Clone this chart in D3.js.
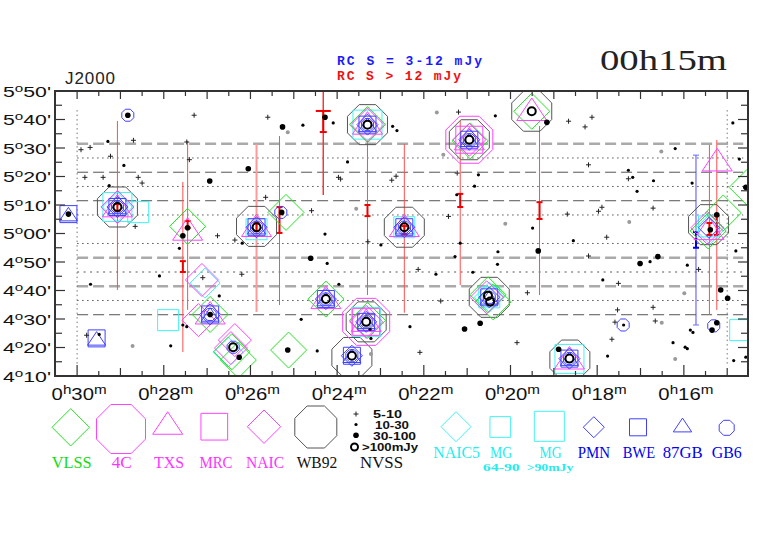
<!DOCTYPE html>
<html lang="en">
<head>
<meta charset="utf-8">
<title>00h15m field</title>
<script src="https://cdn.jsdelivr.net/npm/d3@7"></script>
<style>
body { margin: 0; background: #fff; }
</style>
</head>
<body>
<script>
// RA in minutes of time (0h..m), Dec in arcmin (5d00' = 300)

// survey strips (Dec)
var stripGreyDash = [331.5, 291.5, 281.5];
var stripDarkDash = [321.5, 311.5, 271.5];
var stripDarkDot  = [326.5, 316.5, 306.5, 296.5, 276.5];
var stripGreyDot  = [286.5];

// RC sources: ra, dec low, dec high, bar low, bar high
var rcRed = [
  [29.07, 280.2, 339.5, 307.9, 310.3],
  [27.45, 273.2, 332.5, 301.9, 304.4],
  [27.56, 258.4, 318.1, 286.5, 290.3],
  [25.33, 274.9, 334.2, 300.2, 309.3],
  [23.30, 278.4, 332.5, 306.1, 310.0],
  [22.45, 272.2, 331.4, 299.8, 302.6],
  [21.16, 281.9, 339.5, 309.3, 313.9],
  [19.33, 278.4, 337.7, 305.1, 311.0],
  [15.41, 271.4, 331.1, 299.5, 303.7],
  [15.24, 273.2, 332.8, 299.5, 306.1]
];
var rcPink = [[25.86, 272.5, 331.4, 300.9, 303.7]];
var rcWide = [[24.32, 313.5, 350.0, 335.6, 343.0]];
var rcBlue = [[15.72, 267.9, 327.5, 295.0, 300.5]];

// catalogue positions
var vlss = [[27.45,302.5],[25.18,307.4],[23.30,338.2],[20.93,332.5],[19.51,342.9],[15.09,307.2],[15.44,300.9],
  [14.54,316.2],[26.93,271.6],[26.43,258.5],[26.28,255.6],[25.12,259.1],[24.26,277.0],[23.30,269.5],[20.52,278.5],[20.40,276.0]];
var fourC = [[20.95,332.9],[23.33,269.0]];
var txs = [[29.07,309.8],[27.45,301.6],[25.86,302.9],[23.30,338.8],[22.45,302.9],[20.95,333.3],[19.51,343.6],
  [15.42,301.8],[15.23,325.9],[26.93,272.2],[24.26,277.6],[23.33,269.6],[18.64,256.4]];
var mrc = [[20.95,332.9],[23.33,269.0]];
var naic = [[29.07,309.3],[23.30,338.2],[20.95,332.9],[27.20,269.6],[27.12,283.7],[26.36,262.6],[26.45,259.8],
  [20.55,277.6],[15.46,302.0],[23.33,269.0]];
var wb92 = [[29.07,309.3],[25.86,302.5],[23.30,338.2],[22.45,302.2],[20.95,332.9],[19.51,342.9],[15.43,303.1],
  [23.33,269.0],[23.66,256.5],[20.49,277.6],[18.63,255.6]];
var naic5 = [[29.07,309.3],[27.05,282.6],[26.52,258.4],[20.49,277.6],[15.40,301.5]];
var mgMid = [[28.59,307.5],[25.86,301.5],[22.45,302.2],[27.90,269.6],[14.70,266.1],[20.49,277.6],[15.42,302.5]];
var mgBig = [[29.07,309.3],[23.30,338.2],[23.33,269.0],[18.64,256.0]];
var pmn = [[29.07,309.3],[25.86,302.2],[23.30,338.2],[22.45,302.2],[20.95,332.9],[26.93,271.6],[24.26,277.0],
  [23.33,269.0],[23.66,257.1],[20.49,277.6],[18.64,256.1],[15.42,302.0]];
var bwe = [[30.20,306.8],[29.07,309.3],[25.86,302.2],[23.30,338.2],[22.45,302.2],[20.95,332.9],[26.93,271.6],
  [24.26,277.0],[23.33,269.0],[23.66,257.1],[20.49,277.6],[18.64,256.1],[29.55,263.2]];
var gb87 = [[30.20,306.8],[29.07,309.3],[25.86,302.2],[23.30,338.2],[22.45,302.2],[20.95,332.9],[26.93,271.6],
  [24.26,277.0],[23.33,269.0],[23.66,257.1],[20.49,277.6],[18.64,256.1],[29.55,263.2]];
var gb6 = [[29.07,309.3],[25.86,302.2],[25.30,307.4],[23.30,338.2],[22.45,302.2],[20.95,332.9],[26.93,271.6],
  [26.40,260.1],[24.26,277.0],[23.33,269.0],[23.66,257.1],[20.49,277.6],[18.64,256.1],[28.83,341.5],[17.40,267.9],[15.31,267.6]];

// NVSS
var nvssRing = [[29.07,309.3],[25.86,302.2],[23.30,338.2],[22.45,302.2],[20.95,332.9],[19.51,342.9],[26.40,260.1],
  [24.26,277.0],[23.33,269.0],[23.66,257.1],[20.52,278.2],[20.47,276.1],[18.64,256.1]];
var nvssBig = [[25.26,337.4],[26.94,318.4],[26.05,322.7],[24.61,291.3],[21.06,266.5],[20.70,268.5],[19.36,293.9],
  [16.60,291.9],[17.01,289.5],[15.15,280.2],[14.99,277.3],[15.35,266.1],[15.24,268.7],[25.14,259.1],[24.28,340.8],
  [19.16,339.0],[27.56,299.2],[26.26,256.6],[18.89,259.4],[15.39,301.3],[15.24,306.6],[30.20,306.8],[25.28,307.4],
  [27.45,302.0],[26.93,271.6],[14.57,316.2],[28.83,341.5]];
var nvssDot = [[29.29,332.3],[28.92,323.9],[29.26,316.8],[24.79,338.0],[24.09,338.8],[22.72,337.6],[22.62,336.1],
  [20.35,341.3],[23.76,325.1],[20.74,320.6],[20.83,316.6],[21.24,313.6],[24.28,299.8],[16.20,329.8],[17.28,322.2],
  [17.18,319.7],[16.70,318.5],[17.08,314.8],[15.81,317.7],[19.49,301.9],[14.87,338.8],[14.72,326.1],[29.69,282.2],
  [28.10,285.1],[26.19,296.6],[27.64,294.8],[26.72,278.1],[27.56,267.9],[27.47,267.3],[27.84,260.6],[29.49,264.6],
  [22.99,296.0],[24.23,289.5],[21.72,285.7],[21.28,291.9],[21.16,296.6],[20.29,293.6],[20.30,289.2],[20.87,286.4],
  [23.96,282.2],[24.83,269.9],[22.32,267.3],[24.46,258.8],[18.55,297.5],[16.78,290.1],[15.92,288.9],[17.87,283.7],
  [14.80,293.9],[16.25,261.7],[15.85,266.1],[15.79,265.3],[15.97,260.1],[15.92,259.6],[17.76,257.0],[14.85,255.4],
  [14.57,256.6],[23.24,266.4],[23.22,263.2],[17.39,267.9]];
var nvssPlus = [[29.91,329.4],[29.70,330.2],[28.70,332.7],[27.30,341.5],[25.60,340.8],[29.23,327.1],[29.82,319.7],
  [29.40,319.7],[28.59,319.7],[28.50,317.7],[27.47,332.1],[27.41,325.9],[25.65,312.7],[28.66,302.5],[26.76,299.2],
  [21.20,342.6],[23.97,319.7],[23.92,319.1],[22.74,318.7],[22.64,320.1],[21.23,321.2],[24.59,308.0],[21.43,306.0],
  [18.66,339.4],[18.12,340.8],[18.28,337.4],[18.20,324.1],[17.28,319.2],[18.69,306.8],[17.97,307.8],[17.89,309.2],
  [16.71,308.9],[17.78,298.7],[26.36,297.7],[26.20,285.7],[27.10,284.5],[29.78,264.3],[23.29,297.1],[22.13,287.4],
  [21.61,276.3],[22.09,258.3],[19.85,261.7],[18.20,292.1],[15.66,287.4],[17.51,282.5],[19.61,279.2],[17.53,273.2],
  [16.71,274.1],[16.66,269.3],[17.59,268.9],[17.66,262.9]];
var nvssGrey = [[25.14,335.5],[23.56,308.7],[20.12,303.4],[17.26,304.0],[28.72,260.5],[23.22,257.7],[16.51,268.7],
  [21.70,342.5],[21.55,327.6],[16.52,328.8],[15.99,279.0],[16.20,256.0]];

// axis ticks
var raLabels = [30, 28, 26, 24, 22, 20, 18, 16];
var decLabels = [350, 340, 330, 320, 310, 300, 290, 280, 270, 260, 250];

var W = 782, H = 542;
var L = 55, R = 748, T = 91, B = 376;

var GREEN = "#22e822", MAG = "#ff44ff", CYAN = "#44f2f2", BLUE = "#4040ff", GREY = "#555";
var SANS = "'Liberation Sans', Arial, sans-serif",
    SERIF = "'Liberation Serif', 'Times New Roman', serif",
    MONO = "'Liberation Mono', 'Courier New', monospace";

var x = d3.scaleLinear().domain([30.51, 14.52]).range([L, R]);
var y = d3.scaleLinear().domain([350, 250]).range([T, B]);

var svg = d3.select("body").append("svg")
    .attr("width", W).attr("height", H)
    .style("display", "block")
    .style("background", "#fff");

svg.append("clipPath").attr("id", "pc")
   .append("rect").attr("x", L).attr("y", T).attr("width", R - L).attr("height", B - T);

var plot = svg.append("g").attr("clip-path", "url(#pc)");

// shapes
function diamond(cx, cy, s) {
    return "M" + cx + "," + (cy - s) + "L" + (cx + s) + "," + cy + "L" + cx + "," + (cy + s) + "L" + (cx - s) + "," + cy + "Z";
}
function square(cx, cy, s) {
    var h = s / 2;
    return "M" + (cx - h) + "," + (cy - h) + "h" + s + "v" + s + "h" + (-s) + "Z";
}
function triangle(cx, cy, s) {
    var hh = s * 0.75 / 2;
    return "M" + cx + "," + (cy - hh) + "L" + (cx + s / 2) + "," + (cy + hh) + "L" + (cx - s / 2) + "," + (cy + hh) + "Z";
}
function octagon(cx, cy, s) {
    var r = s / 2 / Math.cos(Math.PI / 8), p = [];
    for (var k = 0; k < 8; k++) {
        var a = Math.PI / 8 + k * Math.PI / 4;
        p.push((cx + r * Math.cos(a)) + "," + (cy + r * Math.sin(a)));
    }
    return "M" + p.join("L") + "Z";
}

function drawSet(data, shape, size, color, sw) {
    plot.append("g").selectAll("path").data(data).enter().append("path")
        .attr("d", function(d) { return shape(x(d[0]), y(d[1]), size); })
        .attr("fill", "none")
        .attr("stroke", color)
        .attr("stroke-width", sw || 1);
}

// survey strips
function strips(data, dash, color, sw) {
    plot.append("g").selectAll("line").data(data).enter().append("line")
        .attr("x1", x(30)).attr("x2", x(14.63))
        .attr("y1", function(d) { return y(d); }).attr("y2", function(d) { return y(d); })
        .attr("stroke", color).attr("stroke-width", sw)
        .attr("stroke-dasharray", dash);
}
strips(stripDarkDot, "1.5,3.5", "#555", 1);
strips(stripGreyDot, "2,4.5", "#aaa", 2);
strips(stripDarkDash, "11,5", "#555", 1);
strips(stripGreyDash, "11,5", "#aaa", 2.5);

// field limits
[30, 15].forEach(function(m) {
    plot.append("line")
        .attr("x1", x(m)).attr("x2", x(m))
        .attr("y1", y(343.3)).attr("y2", y(253.9))
        .attr("stroke", "#777").attr("stroke-width", 1)
        .attr("stroke-dasharray", "1.5,3");
});

// RC lines with bars
function rcDraw(data, color, lw, bw, capTop, capBot) {
    data.forEach(function(d) {
        var xx = x(d[0]);
        plot.append("line").attr("x1", xx).attr("x2", xx)
            .attr("y1", y(d[2])).attr("y2", y(d[1]))
            .attr("stroke", color).attr("stroke-width", lw);
        var g = plot.append("g").attr("stroke", bw.c).attr("stroke-width", bw.w);
        g.append("line").attr("x1", xx).attr("x2", xx).attr("y1", y(d[4])).attr("y2", y(d[3]));
        g.append("line").attr("x1", xx - capTop / 2).attr("x2", xx + capTop / 2).attr("y1", y(d[4])).attr("y2", y(d[4]));
        g.append("line").attr("x1", xx - capBot / 2).attr("x2", xx + capBot / 2).attr("y1", y(d[3])).attr("y2", y(d[3]));
    });
}
rcDraw(rcRed, "#ff4d4d", 1, {c: "#ee0000", w: 2}, 6, 6);
rcDraw(rcPink, "#ff9a9a", 2, {c: "#ee0000", w: 2}, 6, 6);
rcDraw(rcWide, "#ff3333", 1.5, {c: "#ee0000", w: 2}, 15, 7);
rcDraw(rcBlue, "#4d4dff", 1, {c: "#0000ee", w: 2}, 6, 6);
// blue line end caps
rcBlue.forEach(function(d) {
    [d[1], d[2]].forEach(function(v) {
        plot.append("line").attr("x1", x(d[0]) - 3).attr("x2", x(d[0]) + 3)
            .attr("y1", y(v)).attr("y2", y(v))
            .attr("stroke", "#6a6aff").attr("stroke-width", 1);
    });
});

// catalogue markers
drawSet(wb92, octagon, 40, GREY, 1);
drawSet(fourC, octagon, 47, MAG, 1);
drawSet(mgBig, square, 29, CYAN, 1);
drawSet(mgMid, square, 21, CYAN, 1);
drawSet(naic5, diamond, 15, CYAN, 1);
drawSet(vlss, diamond, 18, GREEN, 1);
drawSet(mrc, square, 27, MAG, 1);
drawSet(naic, diamond, 16.5, MAG, 1);
drawSet(txs, triangle, 30, MAG, 1);
drawSet(pmn, diamond, 10.5, BLUE, 1);
drawSet(bwe, square, 17, BLUE, 1);
drawSet(gb87, triangle, 18, BLUE, 1);
drawSet(gb6, octagon, 12, BLUE, 1);

// NVSS
plot.append("g").selectAll("circle").data(nvssGrey).enter().append("circle")
    .attr("cx", function(d) { return x(d[0]); }).attr("cy", function(d) { return y(d[1]); })
    .attr("r", 2).attr("fill", "#9a9a9a");
plot.append("g").selectAll("path").data(nvssPlus).enter().append("path")
    .attr("d", function(d) { var a = x(d[0]), b = y(d[1]); return "M" + (a - 2.5) + "," + b + "h5M" + a + "," + (b - 2.5) + "v5"; })
    .attr("stroke", "#222").attr("stroke-width", 1);
plot.append("g").selectAll("circle").data(nvssDot).enter().append("circle")
    .attr("cx", function(d) { return x(d[0]); }).attr("cy", function(d) { return y(d[1]); })
    .attr("r", 1.6).attr("fill", "#000");
plot.append("g").selectAll("circle").data(nvssBig).enter().append("circle")
    .attr("cx", function(d) { return x(d[0]); }).attr("cy", function(d) { return y(d[1]); })
    .attr("r", 2.8).attr("fill", "#000");
plot.append("g").selectAll("circle").data(nvssRing).enter().append("circle")
    .attr("cx", function(d) { return x(d[0]); }).attr("cy", function(d) { return y(d[1]); })
    .attr("r", 4).attr("fill", "none").attr("stroke", "#000").attr("stroke-width", 2);

// frame and ticks
var ax = svg.append("g").attr("stroke", "#333").attr("stroke-width", 1.2);
d3.range(250, 351, 5).forEach(function(d) {
    var len = d % 10 === 0 ? 10 : 7;
    ax.append("line").attr("x1", L).attr("x2", L + len).attr("y1", y(d)).attr("y2", y(d));
    ax.append("line").attr("x1", R).attr("x2", R - len).attr("y1", y(d)).attr("y2", y(d));
});
d3.range(30, 62).map(function(k) { return k / 2; }).forEach(function(m) {
    var top = Number.isInteger(m) ? 8 : 5;
    var bot = (m % 2 === 0) ? 11 : (Number.isInteger(m) ? 8 : 5);
    ax.append("line").attr("x1", x(m)).attr("x2", x(m)).attr("y1", T).attr("y2", T + top);
    ax.append("line").attr("x1", x(m)).attr("x2", x(m)).attr("y1", B).attr("y2", B - bot);
});
svg.append("rect").attr("x", L).attr("y", T).attr("width", R - L).attr("height", B - T)
    .attr("fill", "none").attr("stroke", "#333").attr("stroke-width", 2);

// Dec labels
decLabels.forEach(function(d) {
    var t = svg.append("text").attr("x", 3).attr("y", y(d) + 5.5)
        .style("font-family", SANS).style("font-size", "14px")
        .attr("textLength", 48).attr("lengthAdjust", "spacingAndGlyphs").attr("fill", "#111");
    t.append("tspan").text(Math.floor(d / 60));
    t.append("tspan").attr("dy", -5).style("font-size", "10px").text("o");
    var mm = d % 60;
    t.append("tspan").attr("dy", 5).text((mm < 10 ? "0" : "") + mm + "'");
});

// RA labels
raLabels.forEach(function(m) {
    var t = svg.append("text").attr("x", x(m) - 25.5).attr("y", 400)
        .style("font-family", SANS).style("font-size", "16px")
        .attr("textLength", 55).attr("lengthAdjust", "spacingAndGlyphs").attr("fill", "#111");
    t.append("tspan").text("0");
    t.append("tspan").attr("dy", -6).style("font-size", "12px").text("h");
    t.append("tspan").attr("dy", 6).text(m);
    t.append("tspan").attr("dy", -6).style("font-size", "12px").text("m");
});

// header
svg.append("text").attr("x", 600).attr("y", 70)
    .style("font-family", SERIF).style("font-size", "29px")
    .attr("textLength", 127).attr("lengthAdjust", "spacingAndGlyphs").attr("fill", "#222")
    .text("00h15m");
svg.append("text").attr("x", 65).attr("y", 84)
    .style("font-family", SANS).style("font-size", "17px")
    .attr("textLength", 50).attr("lengthAdjust", "spacing").attr("fill", "#222")
    .text("J2000");
svg.append("text").attr("x", 337).attr("y", 65)
    .style("font-family", MONO).style("font-weight", "bold").style("font-size", "13px")
    .style("white-space", "pre")
    .attr("textLength", 145).attr("lengthAdjust", "spacing").attr("fill", "#1a1aff")
    .text("RC S = 3-12 mJy");
svg.append("text").attr("x", 337).attr("y", 80)
    .style("font-family", MONO).style("font-weight", "bold").style("font-size", "13px")
    .style("white-space", "pre")
    .attr("textLength", 124).attr("lengthAdjust", "spacing").attr("fill", "#ee1111")
    .text("RC S > 12 mJy");

// legend
var lg = svg.append("g").attr("fill", "none").attr("stroke-width", 1);
lg.append("path").attr("d", diamond(70.7, 427.3, 18.7)).attr("stroke", GREEN);
lg.append("path").attr("d", octagon(121, 429, 49)).attr("stroke", MAG);
lg.append("path").attr("d", triangle(167.7, 423, 30)).attr("stroke", MAG);
lg.append("path").attr("d", square(214.3, 426.7, 26.7)).attr("stroke", MAG);
lg.append("path").attr("d", diamond(264, 426.7, 16.7)).attr("stroke", MAG);
lg.append("path").attr("d", octagon(315.8, 427, 42)).attr("stroke", GREY);
lg.append("path").attr("d", diamond(456, 426.7, 15)).attr("stroke", CYAN);
lg.append("path").attr("d", square(500.3, 427, 20.7)).attr("stroke", CYAN);
lg.append("path").attr("d", square(549.3, 426.3, 30)).attr("stroke", CYAN);
lg.append("path").attr("d", diamond(593.8, 427.2, 10.5)).attr("stroke", BLUE);
lg.append("path").attr("d", square(638, 427.3, 17)).attr("stroke", BLUE);
lg.append("path").attr("d", triangle(682.5, 425, 18.4)).attr("stroke", BLUE);
lg.append("path").attr("d", octagon(726.7, 427.8, 15)).attr("stroke", BLUE);

// NVSS legend
svg.append("path").attr("d", "M353.5,414h5M356,411.5v5").attr("stroke", "#222").attr("stroke-width", 1);
svg.append("circle").attr("cx", 356).attr("cy", 424.5).attr("r", 1.6).attr("fill", "#000");
svg.append("circle").attr("cx", 356).attr("cy", 435.3).attr("r", 2.8).attr("fill", "#000");
svg.append("circle").attr("cx", 354.5).attr("cy", 447).attr("r", 3.5).attr("fill", "none").attr("stroke", "#000").attr("stroke-width", 2);

function ltext(str, cx, yb, w, color, fs, weight) {
    svg.append("text")
        .attr("x", cx).attr("y", yb).attr("text-anchor", "middle")
        .style("font-family", SERIF).style("font-size", fs + "px").style("font-weight", weight || "normal")
        .attr("textLength", w).attr("lengthAdjust", "spacingAndGlyphs")
        .attr("fill", color).text(str);
}
function stext(str, x0, yb, w) {
    svg.append("text").attr("x", x0).attr("y", yb)
        .style("font-family", SANS).style("font-weight", "bold").style("font-size", "10px")
        .attr("textLength", w).attr("lengthAdjust", "spacingAndGlyphs").attr("fill", "#111").text(str);
}
stext("5-10", 373, 418, 29);
stext("10-30", 375, 428.5, 34);
stext("30-100", 373, 439.5, 43);
stext(">100mJy", 362, 450.5, 56);

ltext("VLSS", 71.7, 468, 40, "#11dd11", 17);
ltext("4C", 121.7, 468, 20, "#ff33ff", 17);
ltext("TXS", 169, 468, 30, "#ff33ff", 17);
ltext("MRC", 216, 468, 33, "#ff33ff", 17);
ltext("NAIC", 265, 468, 38, "#ff33ff", 17);
ltext("WB92", 317, 468, 40.6, "#111", 17);
ltext("NVSS", 381.5, 468, 43, "#111", 17);
ltext("NAIC5", 456.7, 458, 46.7, "#22eeee", 16);
ltext("MG", 501, 458, 22, "#22eeee", 16);
ltext("MG", 550.5, 458, 22, "#22eeee", 16);
ltext("PMN", 593.8, 458, 32.3, "#0000ee", 16);
ltext("BWE", 639, 458, 32.3, "#0000ee", 16);
ltext("87GB", 682.7, 458, 40, "#0000ee", 16);
ltext("GB6", 726.7, 458, 30, "#0000ee", 16);
ltext("64-90", 501.3, 471, 37, "#22eeee", 11, "bold");
ltext(">90mJy", 550, 471, 46.7, "#22eeee", 11, "bold");
</script>
</body>
</html>
